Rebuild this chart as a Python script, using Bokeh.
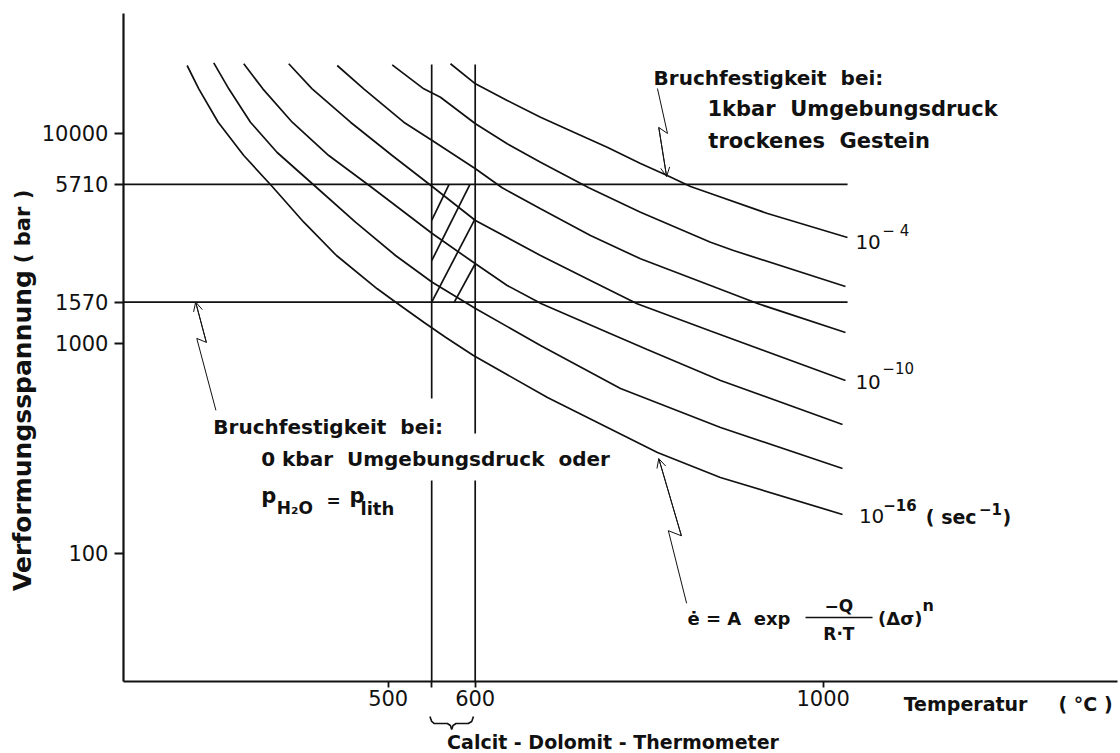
import math
from bokeh.plotting import figure
from bokeh.models import (Range1d, FixedTicker, CustomJSTickFormatter, Label,
                          Arrow, OpenHead)
from bokeh.embed import file_html
from bokeh.resources import INLINE

# ---------------- data (temperature in deg C, stress in bar) ----------------
# strain-rate curves, e-dot = 1e-4 ... 1e-16 1/s
T_r4 = [571.6, 600.3, 636.8, 675.1, 713.3, 751.7, 790.0, 820.7, 847.5, 870.5, 936.0, 1027.9]
S_r4 = [21410, 17190, 14310, 11920, 10110, 8580, 7175, 6290, 5575, 5163, 4146, 3187]

T_r6 = [504.6, 540.9, 560.1, 600.3, 636.8, 675.1, 730.6, 790.0, 870.5, 896.9, 1025.6]
S_r6 = [21170, 16270, 14840, 11090, 8900, 7276, 5495, 4206, 3027, 2763, 1862]

T_r8 = [441.4, 471.9, 517.9, 550.6, 600.3, 631.0, 675.1, 732.5, 790.0, 870.5, 924.5, 1025.6]
S_r8 = [21010, 16270, 11280, 9231, 6769, 5495, 4365, 3258, 2523, 1883, 1545, 1125]

T_r10 = [385.7, 412.6, 456.7, 504.6, 550.6, 600.3, 675.1, 732.5, 786.2, 870.5, 1025.6]
S_r10 = [21410, 16270, 11280, 7830, 5575, 3839, 2616, 1989, 1540, 1144, 664.4]

T_r12 = [334.0, 355.9, 389.7, 431.7, 479.7, 508.4, 550.6, 600.3, 636.8, 676.2, 751.7,
         797.7, 882.0, 1022.2]
S_r12 = [21410, 16270, 11280, 7830, 5575, 4527, 3330, 2388, 1883, 1540, 1128,
         933.3, 664.4, 410.2]

T_r14 = [299.5, 316.8, 341.7, 372.4, 416.4, 462.4, 508.4, 550.6, 600.3, 675.1, 767.0,
         882.0, 1022.2]
S_r14 = [21640, 16270, 11280, 8093, 5575, 3768, 2616, 1952, 1463, 975, 608.4,
         396.8, 253.2]

T_r16 = [268.9, 282.3, 304.6, 334.0, 366.7, 403.0, 440.6, 487.4, 510.3, 540.9, 565.9,
         598.0, 683.1, 809.5, 881.8, 1022.2]
S_r16 = [21010, 16270, 11280, 7830, 5575, 3768, 2616, 1816, 1550, 1259, 1068,
         873.8, 551.2, 301.7, 229.3, 152.9]

curves_T = [T_r4, T_r6, T_r8, T_r10, T_r12, T_r14, T_r16]
curves_S = [S_r4, S_r6, S_r8, S_r10, S_r12, S_r14, S_r16]

# fracture strength levels (bar) and the temperature where their lines end
strength_levels = [1570, 5710]
strength_T_end = 1028

# calcite-dolomite thermometer temperatures and vertical extents
thermo_T = [550, 600]
thermo_top = 21240
thermo_gap_from = [545.5, 371.5]
thermo_gap_to = 221.9

# hatching inside the box 550-600 C / 1570-5710 bar
hatch_T0 = [550, 550, 550, 576]
hatch_S0 = [3840, 2470, 1570, 1570]
hatch_T1 = [570, 594, 600, 600]
hatch_S1 = [5710, 5710, 3920, 2390]

# axis ticks
x_ticks = [500, 550, 600, 1000]
y_ticks = [100, 1000, 1570, 5710, 10000]

# axis extents (data units) and the whole drawing area
axis_T0, axis_T1 = 195.75, 1338.0
axis_S0, axis_S1 = 24.55, 37170
view_T = (54.4, 1341.7)
view_S = (11.12, 42850)

# ---------------- figure ----------------
p = figure(width=1120, height=753, x_range=Range1d(*view_T),
           y_range=Range1d(*view_S), y_axis_type="log",
           output_backend="svg", toolbar_location=None,
           min_border=0, min_border_left=0, min_border_right=0,
           min_border_top=0, min_border_bottom=0)
p.outline_line_color = None
p.grid.visible = False
p.background_fill_color = "white"
p.border_fill_color = "white"

FONT = "DejaVu Sans"
INK = "#111111"

for ax in (p.xaxis[0], p.yaxis[0]):
    ax.axis_line_width = 2.2
    ax.axis_line_color = INK
    ax.major_tick_line_color = INK
    ax.major_tick_line_width = 1.8
    ax.major_tick_in = 0
    ax.minor_tick_line_color = None
    ax.major_label_text_font = FONT
    ax.major_label_text_font_size = "21px"
    ax.major_label_text_color = INK

p.xaxis.fixed_location = axis_S0
p.xaxis.bounds = (axis_T0, axis_T1)
p.xaxis.ticker = FixedTicker(ticks=x_ticks)
p.xaxis.formatter = CustomJSTickFormatter(
    code="return Math.abs(tick - 550) < 1 ? '' : tick.toFixed(0)")
p.xaxis.major_tick_out = 6
p.xaxis.major_label_standoff = 3

p.yaxis.fixed_location = axis_T0
p.yaxis.bounds = (axis_S0, axis_S1)
p.yaxis.ticker = FixedTicker(ticks=y_ticks)
p.yaxis.formatter = CustomJSTickFormatter(code="return tick.toFixed(0)")
p.yaxis.major_tick_out = 9
p.yaxis.major_label_standoff = 6

# curves
for Ts, Ss in zip(curves_T, curves_S):
    p.line(Ts, Ss, line_color=INK, line_width=1.7)

# horizontal strength lines
n = len(strength_levels)
p.segment(x0=[axis_T0] * n, y0=strength_levels,
          x1=[strength_T_end] * n, y1=strength_levels,
          line_color=INK, line_width=1.7)

# vertical thermometer lines (interrupted by the text)
p.segment(x0=thermo_T, y0=[thermo_top] * 2, x1=thermo_T, y1=thermo_gap_from,
          line_color=INK, line_width=1.7)
p.segment(x0=thermo_T, y0=[thermo_gap_to] * 2, x1=thermo_T, y1=[axis_S0] * 2,
          line_color=INK, line_width=1.7)

# hatching
p.segment(x0=hatch_T0, y0=hatch_S0, x1=hatch_T1, y1=hatch_S1,
          line_color=INK, line_width=1.7)

# ---------------- annotations ----------------
def lab(x, y, text, size=20, bold=True, align="left", baseline="middle", angle=0.0):
    p.add_layout(Label(x=x, y=y, text=text, text_font=FONT,
                       text_font_size=f"{size}px",
                       text_font_style="bold" if bold else "normal",
                       text_color=INK, text_align=align,
                       text_baseline=baseline, angle=angle))

SP = "\u00a0\u00a0"

# zig-zag pointer arrows (annotation positions, data units)
zig_arrows = [
    ([809.5, 821, 811, 820], [16330, 9970, 10650, 6220], 2, 3),
    ([278.7, 291, 280, 302], [1570, 1009, 1054, 479], 1, 0),
    ([811, 837, 822, 843], [282, 121, 128, 57.7], 1, 0),
]
for xs, ys, i0, i1 in zig_arrows:
    p.line(xs, ys, line_color=INK, line_width=1.0)
    p.add_layout(Arrow(end=OpenHead(size=9, line_width=1.0, line_color=INK),
                       x_start=xs[i0], y_start=ys[i0], x_end=xs[i1], y_end=ys[i1],
                       line_width=1.0, line_color=INK))

# upper right note
lab(805, 18400, "Bruchfestigkeit" + SP + "bei:")
lab(867, 13100, "1kbar" + SP + "Umgebungsdruck", size=21)
lab(868, 9230, "trockenes" + SP + "Gestein", size=21)

# lower left note
lab(299, 397, "Bruchfestigkeit" + SP + "bei:")
lab(354, 282, "0\u00a0kbar" + SP + "Umgebungsdruck" + SP + "oder")
lab(354, 188, "p", size=21, baseline="alphabetic")
lab(371.9, 163.3, "H\u2082O", size=17, baseline="alphabetic")
lab(429, 178.2, "=", size=17, baseline="alphabetic")
lab(455.5, 188, "p", size=21, baseline="alphabetic")
lab(468.2, 163.3, "lith", size=18, baseline="alphabetic")

# strain rate labels
lab(1037, 3020, "10", size=20, bold=False)
lab(1068, 3440, "\u2212\u00a04", size=15, bold=False)
lab(1037, 657, "10", size=20, bold=False)
lab(1068, 759, "\u221210", size=15, bold=False)
lab(1041, 151, "10", size=20, bold=False)
lab(1069, 169, "\u221216", size=15)
lab(1118, 148, "(\u00a0sec", size=19)
lab(1179, 163, "\u22121", size=15)
lab(1206, 148, ")", size=19)

# flow law
lab(844, 48.9, "\u0117 = A" + SP + "exp", size=18)
lab(1018, 56.2, "\u2212Q", size=17, align="center")
p.line([979.7, 1056.7], [49.4, 49.4], line_color=INK, line_width=1.3)
lab(1018, 41.4, "R\u00b7T", size=17, align="center")
lab(1063, 48.9, "(\u0394\u03c3)", size=18)
lab(1114, 56.2, "n", size=16)

# axis titles and the thermometer note
lab(79.7, 384, "Verformungsspannung", size=25, align="center", angle=math.pi / 2)
lab(79.7, 3597, "(\u00a0bar\u00a0)", size=21, align="center", angle=math.pi / 2)
lab(1092.5, 19.2, "Temperatur", size=19)
lab(1270.5, 19.2, "(\u00a0\u00b0C\u00a0)", size=19)

brace_T = [548, 550, 553, 568, 571.5, 573, 574.5, 578, 592, 596, 598]
brace_S = [16.69, 15.80, 15.45, 15.45, 15.12, 14.47, 15.12, 15.45, 15.45, 15.80, 16.69]
p.line(brace_T, brace_S, line_color=INK, line_width=1.6)
lab(758.4, 12.55, "Calcit - Dolomit - Thermometer", size=19, align="center")

open("out.html", "w").write(file_html(p, INLINE))
